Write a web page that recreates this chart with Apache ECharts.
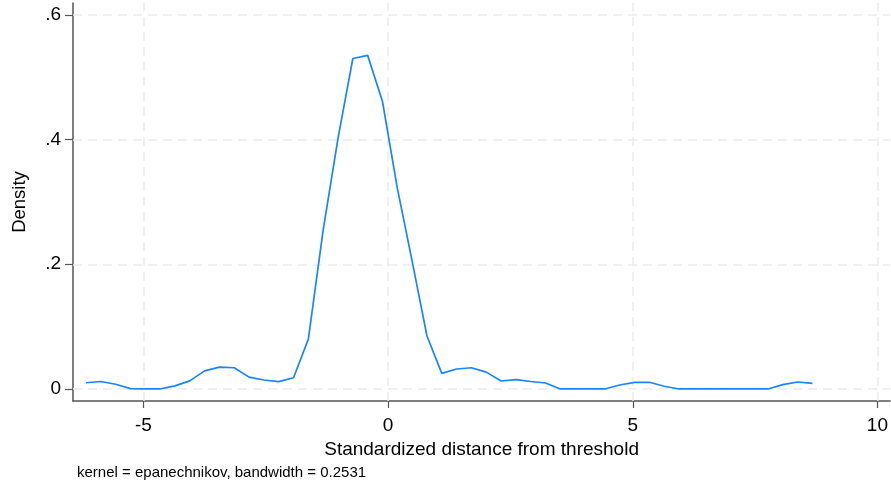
<!DOCTYPE html>
<html>
<head>
<meta charset="utf-8">
<script src="https://cdn.jsdelivr.net/npm/echarts@6/dist/echarts.min.js"></script>
<style>
    html,body{margin:0;padding:0;background:#fff;}
    #chart{width:891px;height:486px;}
</style>
</head>
<body>
<div id="chart"></div>
<script type="text/javascript">
    // evaluation points of the kernel density (x) and the estimated density (y)
    var xPoints = [-6.175,-5.872,-5.569,-5.266,-4.963,-4.660,-4.357,-4.054,-3.751,-3.448,
        -3.145,-2.842,-2.539,-2.236,-1.933,-1.630,-1.327,-1.024,-0.721,-0.418,
        -0.115,0.188,0.491,0.794,1.097,1.400,1.703,2.006,2.309,2.612,
        2.915,3.218,3.521,3.824,4.127,4.430,4.733,5.036,5.339,5.642,
        5.945,6.248,6.551,6.854,7.157,7.460,7.763,8.066,8.369,8.672];
    var density = [0.010,0.012,0.0075,0.0005,0,0,0.005,0.013,0.029,0.035,
        0.034,0.019,0.0144,0.0117,0.018,0.080,0.255,0.402,0.530,0.535,
        0.461,0.322,0.205,0.085,0.025,0.032,0.034,0.027,0.0128,0.015,
        0.012,0.0096,0,0,0,0,0.0064,0.0107,0.0107,0.0043,
        0,0,0,0,0,0,0,0.007,0.0112,0.009];
    var xTicks = [-5, 0, 5, 10];
    var yTicks = [0, 0.2, 0.4, 0.6];
    var xTitle = 'Standardized distance from threshold';
    var yTitle = 'Density';
    var note = 'kernel = epanechnikov, bandwidth = 0.2531';

    var font = 'Liberation Sans, Arial, sans-serif';
    var chart = echarts.init(document.getElementById('chart'));

    var linePts = [];
    for (var i = 0; i < xPoints.length; i++) {
        linePts.push([xPoints[i], density[i]]);
    }
    //网格线 (dashed grid)
    var gridLines = [];
    xTicks.forEach(function (v) { gridLines.push({xAxis: v}); });
    yTicks.forEach(function (v) { gridLines.push({yAxis: v}); });

    chart.setOption({
        animation: false,
        backgroundColor: '#ffffff',
        grid: {left: 73, right: 0, top: 3, bottom: 85},
        xAxis: {
            type: 'value',
            min: -6.44,
            max: 10.26,
            name: xTitle,
            nameLocation: 'middle',
            nameGap: 37,
            nameTextStyle: {color: '#000', fontSize: 19, fontFamily: font},
            axisLine: {onZero: false, lineStyle: {color: '#555', width: 1.5}},
            axisTick: {show: true, length: 7, customValues: xTicks, lineStyle: {color: '#555', width: 1.2}},
            axisLabel: {customValues: xTicks, margin: 15, color: '#000', fontSize: 19, fontFamily: font},
            splitLine: {show: false}
        },
        yAxis: {
            type: 'value',
            min: -0.0193,
            max: 0.619,
            name: yTitle,
            nameLocation: 'middle',
            nameGap: 44,
            nameTextStyle: {color: '#000', fontSize: 18.5, fontFamily: font},
            axisLine: {show: true, onZero: false, lineStyle: {color: '#555', width: 1.5}},
            axisTick: {show: true, length: 8, customValues: yTicks, lineStyle: {color: '#555', width: 1.2}},
            axisLabel: {
                customValues: yTicks,
                margin: 12,
                color: '#000',
                fontSize: 19,
                fontFamily: font,
                formatter: function (v) {
                    if (v === 0) return '0';
                    return String(Math.round(v * 10) / 10).replace(/^0/, '');
                }
            },
            splitLine: {show: false}
        },
        graphic: [{
            type: 'text',
            left: 77,
            top: 465,
            style: {text: note, fill: '#000', font: '15px ' + font}
        }],
        series: [{
            type: 'line',
            data: linePts,
            showSymbol: false,
            symbol: 'none',
            lineStyle: {color: '#1a85ff', width: 1.7},
            z: 3,
            markLine: {
                silent: true,
                symbol: 'none',
                label: {show: false},
                lineStyle: {color: '#ececec', type: [9, 6], width: 1.5},
                data: gridLines,
                z: 1
            }
        }]
    });
</script>
</body>
</html>
